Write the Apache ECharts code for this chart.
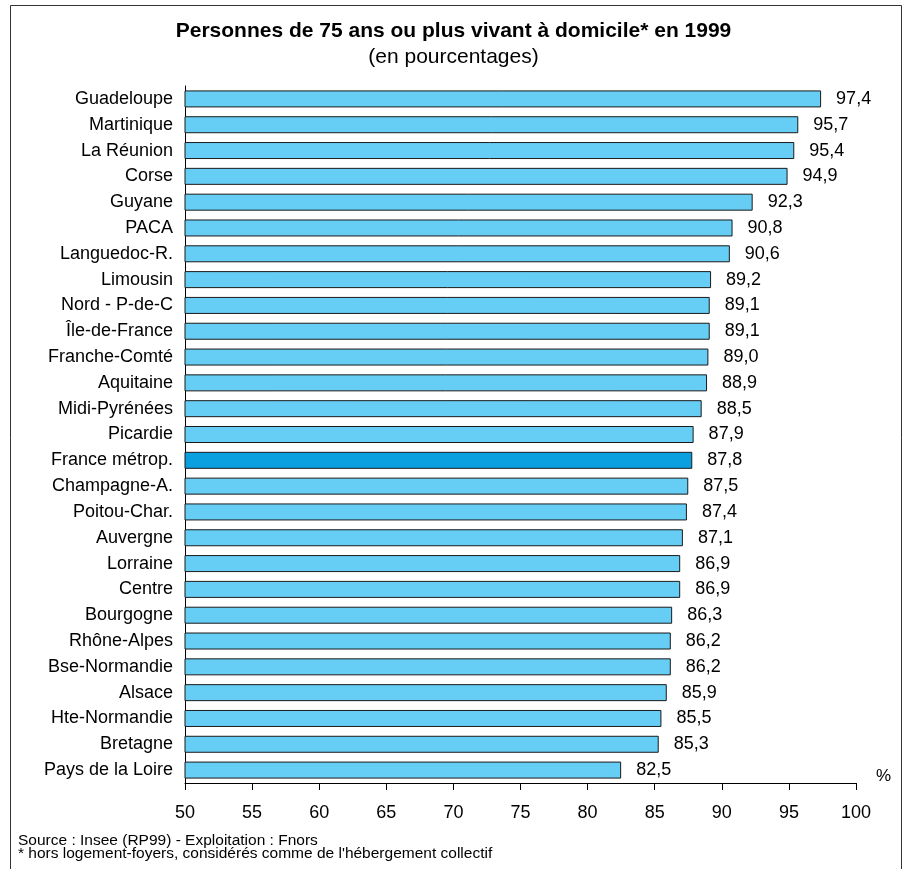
<!DOCTYPE html>
<html><head><meta charset="utf-8">
<script src="https://cdn.jsdelivr.net/npm/echarts@6/dist/echarts.min.js"></script>
<style>html,body{margin:0;padding:0;background:#fff}#c{width:907px;height:869px}</style>
</head><body><div id="c"></div>
<script>
const categories = ["Guadeloupe","Martinique","La Réunion","Corse","Guyane","PACA","Languedoc-R.","Limousin","Nord - P-de-C","Île-de-France","Franche-Comté","Aquitaine","Midi-Pyrénées","Picardie","France métrop.","Champagne-A.","Poitou-Char.","Auvergne","Lorraine","Centre","Bourgogne","Rhône-Alpes","Bse-Normandie","Alsace","Hte-Normandie","Bretagne","Pays de la Loire"];
const values = [97.4,95.7,95.4,94.9,92.3,90.8,90.6,89.2,89.1,89.1,89.0,88.9,88.5,87.9,87.8,87.5,87.4,87.1,86.9,86.9,86.3,86.2,86.2,85.9,85.5,85.3,82.5];
const highlight = "France métrop.";
const xTicks = [50,55,60,65,70,75,80,85,90,95,100];

const font = 'Arial, "Liberation Sans", sans-serif';
const chart = echarts.init(document.getElementById('c'));
chart.setOption({
  animation: false,
  backgroundColor: '#fff',
  title: [
    {text: 'Personnes de 75 ans ou plus vivant à domicile* en 1999', left: 'center', top: 16,
     textStyle: {fontFamily: font, fontSize: 21, fontWeight: 'bold', color: '#000'}},
    {text: '(en pourcentages)', left: 'center', top: 42,
     textStyle: {fontFamily: font, fontSize: 21, fontWeight: 'normal', color: '#000'}}
  ],
  grid: {left: 185, right: 51, top: 86, bottom: 86, containLabel: false},
  xAxis: {
    type: 'value', min: xTicks[0], max: xTicks[xTicks.length-1], interval: 5,
    axisLine: {show: true, lineStyle: {color: '#000', width: 1}},
    axisTick: {show: true, length: 7, lineStyle: {color: '#000'}},
    splitLine: {show: false},
    axisLabel: {color: '#000', fontFamily: font, fontSize: 18, margin: 21}
  },
  yAxis: {
    type: 'category', data: categories, inverse: true,
    axisLine: {show: true, lineStyle: {color: '#000', width: 1}},
    axisTick: {show: false},
    axisLabel: {color: '#000', fontFamily: font, fontSize: 18, margin: 12}
  },
  series: [{
    type: 'bar',
    barWidth: 17,
    data: values.map((v, i) => ({
      value: v,
      itemStyle: {color: categories[i] === highlight ? '#0aa0e0' : '#66cdf5'}
    })),
    itemStyle: {borderColor: '#1a1a1a', borderWidth: 1},
    label: {
      show: true, position: 'right', distance: 15, color: '#000',
      fontFamily: font, fontSize: 18,
      formatter: p => p.value.toFixed(1).replace('.', ',')
    }
  }],
  graphic: [
    {type: 'rect', shape: {x: 10.5, y: 5.5, width: 891, height: 880},
     style: {fill: 'none', stroke: '#333', lineWidth: 1}, silent: true},
    {type: 'text', left: 876, top: 768,
     style: {text: '%', fontFamily: font, fontSize: 17, fill: '#000'}},
    {type: 'text', left: 18, top: 833,
     style: {text: "Source : Insee (RP99) - Exploitation : Fnors\n* hors logement-foyers, considérés comme de l'hébergement collectif",
             fontFamily: font, fontSize: 15.5, lineHeight: 13, fill: '#000'}}
  ]
});
</script></body></html>
